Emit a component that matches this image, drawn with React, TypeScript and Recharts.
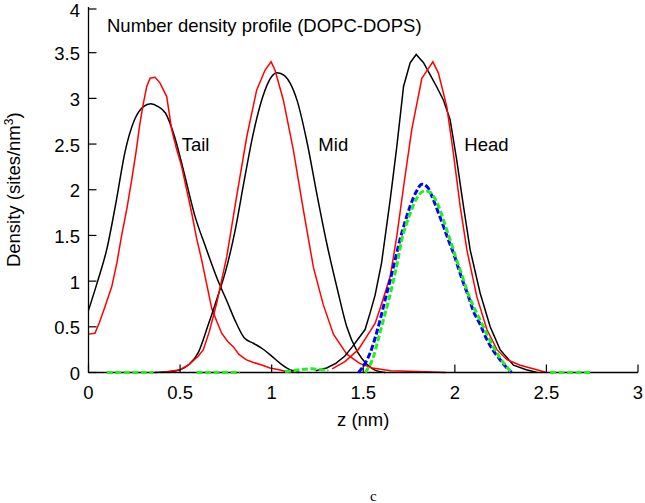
import React from 'react';
import { LineChart, Line, XAxis, YAxis, ReferenceDot } from 'recharts';

const xTicks = [0, 0.5, 1, 1.5, 2, 2.5, 3];
const yTicks = [0, 0.5, 1, 1.5, 2, 2.5, 3, 3.5, 4];

// Tail (black)
const tailBlackZ = [0, 0.05, 0.1, 0.15, 0.2, 0.25, 0.3, 0.34, 0.38, 0.42, 0.47, 0.52, 0.58, 0.64, 0.7, 0.76, 0.8, 0.85, 0.9, 0.95, 1.0, 1.05, 1.1, 1.15];
const tailBlackV = [0.68, 1.0, 1.35, 1.86, 2.42, 2.76, 2.91, 2.94, 2.91, 2.84, 2.58, 2.2, 1.72, 1.37, 1.04, 0.76, 0.57, 0.38, 0.32, 0.26, 0.18, 0.095, 0.03, 0.005];
// Tail (red)
const tailRedZ = [0, 0.035, 0.06, 0.09, 0.127, 0.155, 0.18, 0.21, 0.236, 0.26, 0.281, 0.3, 0.318, 0.336, 0.363, 0.39, 0.427, 0.454, 0.48, 0.509, 0.536, 0.564, 0.59, 0.618, 0.645, 0.673, 0.7, 0.727, 0.76, 0.791, 0.82, 0.86, 0.9, 0.95, 0.99, 1.04, 1.08, 1.15];
const tailRedV = [0.42, 0.43, 0.55, 0.72, 0.94, 1.2, 1.49, 1.8, 2.11, 2.42, 2.73, 2.95, 3.13, 3.22, 3.23, 3.17, 3.02, 2.66, 2.45, 2.25, 2.0, 1.74, 1.47, 1.23, 0.97, 0.7, 0.56, 0.43, 0.34, 0.28, 0.2, 0.14, 0.11, 0.08, 0.05, 0.03, 0.01, 0];
// Mid (black)
const midBlackZ = [0.36, 0.45, 0.5, 0.55, 0.6, 0.65, 0.7, 0.75, 0.8, 0.85, 0.9, 0.95, 1.0, 1.03, 1.07, 1.1, 1.14, 1.19, 1.25, 1.3, 1.36, 1.41, 1.47, 1.52, 1.57, 1.62];
const midBlackV = [0, 0.01, 0.03, 0.09, 0.22, 0.5, 0.8, 1.12, 1.55, 2.1, 2.62, 3.01, 3.24, 3.28, 3.25, 3.17, 2.97, 2.55, 1.92, 1.42, 0.9, 0.5, 0.22, 0.09, 0.02, 0];
// Mid (red)
const midRedZ = [0.4, 0.5, 0.55, 0.6, 0.627, 0.66, 0.7, 0.755, 0.809, 0.864, 0.918, 0.964, 0.997, 1.018, 1.064, 1.118, 1.173, 1.228, 1.282, 1.337, 1.41, 1.48, 1.55, 1.65, 1.8, 1.95];
const midRedV = [0, 0.03, 0.09, 0.18, 0.25, 0.45, 0.76, 1.27, 1.93, 2.58, 3.09, 3.31, 3.4, 3.31, 2.98, 2.44, 1.78, 1.15, 0.74, 0.42, 0.2, 0.1, 0.05, 0.02, 0.01, 0];
// Head (black)
const headBlackZ = [1.24, 1.3, 1.35, 1.4, 1.44, 1.51, 1.537, 1.565, 1.6, 1.647, 1.683, 1.72, 1.756, 1.789, 1.829, 1.87, 1.9, 1.938, 1.974, 2.01, 2.047, 2.084, 2.138, 2.193, 2.247, 2.32, 2.39, 2.45];
const headBlackV = [0.02, 0.05, 0.1, 0.18, 0.28, 0.47, 0.65, 0.85, 1.2, 1.89, 2.47, 3.13, 3.39, 3.48, 3.39, 3.24, 3.13, 2.98, 2.77, 2.33, 1.82, 1.34, 0.87, 0.5, 0.25, 0.08, 0.03, 0];
// Head (red)
const headRedZ = [1.33, 1.4, 1.473, 1.537, 1.565, 1.592, 1.647, 1.683, 1.72, 1.765, 1.82, 1.85, 1.88, 1.91, 1.956, 1.992, 2.029, 2.066, 2.12, 2.175, 2.23, 2.284, 2.357, 2.448, 2.5];
const headRedV = [0.04, 0.12, 0.25, 0.45, 0.54, 0.7, 1.05, 1.49, 2.03, 2.66, 3.22, 3.31, 3.4, 3.28, 2.91, 2.4, 1.82, 1.34, 0.83, 0.47, 0.25, 0.14, 0.08, 0.03, 0];
// Blue dashed
const blueZ = [1.474, 1.51, 1.537, 1.565, 1.592, 1.62, 1.647, 1.675, 1.7, 1.73, 1.756, 1.79, 1.82, 1.85, 1.883, 1.91, 1.938, 1.965, 1.992, 2.02, 2.047, 2.075, 2.1, 2.14, 2.175, 2.21, 2.247, 2.275, 2.31];
const blueV = [0, 0.1, 0.21, 0.38, 0.575, 0.8, 1.01, 1.24, 1.45, 1.66, 1.82, 1.98, 2.06, 2.03, 1.89, 1.75, 1.6, 1.45, 1.31, 1.14, 0.98, 0.83, 0.68, 0.52, 0.36, 0.24, 0.14, 0.07, 0];
// Green dashed (null = gap)
const greenZ = [0.1, 0.15, 0.2, 0.25, 0.3, 0.354, 0.45, 0.59, 0.65, 0.7, 0.75, 0.8, 0.827, 0.95, 1.073, 1.12, 1.17, 1.22, 1.27, 1.31, 1.4, 1.51, 1.555, 1.58, 1.61, 1.64, 1.665, 1.69, 1.71, 1.735, 1.756, 1.79, 1.838, 1.87, 1.9, 1.93, 1.956, 1.983, 2.01, 2.04, 2.066, 2.1, 2.138, 2.175, 2.21, 2.25, 2.284, 2.31, 2.4, 2.52, 2.58, 2.64, 2.7, 2.748];
const greenV = [0, 0, 0, 0, 0, 0, null, 0, 0, 0, 0, 0, 0, null, 0.01, 0.02, 0.035, 0.04, 0.03, 0.02, null, 0, 0.17, 0.35, 0.575, 0.8, 1.01, 1.24, 1.45, 1.62, 1.74, 1.9, 1.99, 1.96, 1.87, 1.72, 1.56, 1.4, 1.23, 1.06, 0.9, 0.73, 0.575, 0.42, 0.28, 0.15, 0.06, 0, null, 0, 0, 0, 0, 0];

const zip = (zs: number[], vs: (number | null)[]) => zs.map((z, i) => ({ z, v: vs[i] }));

const tailBlack = zip(tailBlackZ, tailBlackV);
const tailRed = zip(tailRedZ, tailRedV);
const midBlack = zip(midBlackZ, midBlackV);
const midRed = zip(midRedZ, midRedV);
const headBlack = zip(headBlackZ, headBlackV);
const headRed = zip(headRedZ, headRedV);
const blue = zip(blueZ, blueV);
const green = zip(greenZ, greenV);

const FONT = '"Liberation Sans", Arial, Helvetica, sans-serif';
const FS = 18.5;
const TICK = 8;

const BottomTick = (props: any) => {
  const { x, y, payload } = props;
  return (
    <g>
      <line x1={x} y1={y} x2={x} y2={y - TICK} stroke="#000" strokeWidth={1.2} />
      <text x={x} y={y + 26} textAnchor="middle" fontFamily={FONT} fontSize={FS} fill="#000">{payload.value}</text>
    </g>
  );
};
const TopTick = (props: any) => {
  const { x, y } = props;
  return <line x1={x} y1={y} x2={x} y2={y + TICK} stroke="#000" strokeWidth={1.2} />;
};
const LeftTick = (props: any) => {
  const { x, y, payload } = props;
  return (
    <g>
      <line x1={x} y1={y} x2={x + TICK} y2={y} stroke="#000" strokeWidth={1.2} />
      <text x={x - 8.5} y={y + 7.5} textAnchor="end" fontFamily={FONT} fontSize={FS} fill="#000">{payload.value}</text>
    </g>
  );
};
const RightTick = (props: any) => {
  const { x, y } = props;
  return <line x1={x} y1={y} x2={x - TICK} y2={y} stroke="#000" strokeWidth={1.2} />;
};

const XTitle = (props: any) => {
  const vb = props.viewBox || { x: 88.5, y: 372.5, width: 549.5, height: 130.5 };
  return (
    <text x={vb.x + vb.width / 2} y={vb.y + 53} textAnchor="middle" fontFamily={FONT} fontSize={FS} fill="#000">z (nm)</text>
  );
};
const YTitle = (props: any) => {
  const vb = props.viewBox || { x: 0, y: 7, width: 88.5, height: 365.5 };
  const cx = 20;
  const cy = vb.y + vb.height / 2;
  return (
    <text x={cx} y={cy} transform={`rotate(-90, ${cx}, ${cy})`} textAnchor="middle" fontFamily={FONT} fontSize={FS} fill="#000">
      Density (sites/nm<tspan fontSize={12} dy={-7}>3</tspan><tspan dy={7}>)</tspan>
    </text>
  );
};

const textShape = (label: string) => (p: any) => (
  <text x={p.cx} y={p.cy} fontFamily={FONT} fontSize={FS} fill="#000">{label}</text>
);

const annotations = [
  { z: 0.101, v: 3.725, text: 'Number density profile (DOPC-DOPS)' },
  { z: 0.509, v: 2.425, text: 'Tail' },
  { z: 1.255, v: 2.425, text: 'Mid' },
  { z: 2.052, v: 2.425, text: 'Head' },
];

export default function App() {
  const solid = (data: any[], color: string, key: string, curve: any) => (
    <Line key={key} data={data} dataKey="v" type={curve} stroke={color} strokeWidth={1.5} dot={false} activeDot={false} isAnimationActive={false} connectNulls={false} />
  );
  const dashedProps: any = { zIndex: 800 };
  return (
    <div style={{ position: 'absolute', left: 0, top: 0, width: 645, height: 503, background: '#fff' }}>
      <LineChart width={645} height={503} margin={{ top: 7, right: 7, left: 0, bottom: 0 }}>
        <XAxis xAxisId={0} dataKey="z" type="number" domain={[0, 3]} ticks={xTicks} height={130.5}
          tick={<BottomTick />} tickLine={false} tickSize={0} tickMargin={0} axisLine={{ stroke: '#000', strokeWidth: 1.3 }}
          label={<XTitle />} />
        <XAxis xAxisId="top" orientation="top" dataKey="z" type="number" domain={[0, 3]} ticks={xTicks} allowDataOverflow height={0}
          tick={<TopTick />} tickLine={false} tickSize={0} tickMargin={0} axisLine={{ stroke: '#000', strokeWidth: 1.3 }} />
        <YAxis yAxisId={0} type="number" domain={[0, 4]} ticks={yTicks} width={88.5}
          tick={<LeftTick />} tickLine={false} tickSize={0} tickMargin={0} axisLine={{ stroke: '#000', strokeWidth: 1.3 }}
          label={<YTitle />} />
        <YAxis yAxisId="right" orientation="right" type="number" domain={[0, 4]} ticks={yTicks} allowDataOverflow width={0}
          tick={<RightTick />} tickLine={false} tickSize={0} tickMargin={0} axisLine={{ stroke: '#000', strokeWidth: 1.3 }} />
        {solid(tailBlack, '#000000', 'tb', 'monotone')}
        {solid(tailRed, '#ff0000', 'tr', 'linear')}
        {solid(midBlack, '#000000', 'mb', 'monotone')}
        {solid(midRed, '#ff0000', 'mr', 'linear')}
        {solid(headBlack, '#000000', 'hb', 'linear')}
        {solid(headRed, '#ff0000', 'hr', 'linear')}
        <Line {...dashedProps} data={blue} dataKey="v" type="monotone" stroke="#0000ff" strokeWidth={3} strokeDasharray="6 2.5" dot={false} activeDot={false} isAnimationActive={false} />
        <Line {...dashedProps} data={green} dataKey="v" type="monotone" stroke="#22ee22" strokeWidth={3} strokeDasharray="6 2.5" dot={false} activeDot={false} isAnimationActive={false} connectNulls={false} />
        {annotations.map((a) => (
          <ReferenceDot key={a.text} x={a.z} y={a.v} r={0} ifOverflow="visible" shape={textShape(a.text)} />
        ))}
      </LineChart>
      <div style={{ position: 'absolute', left: 370, top: 489, fontFamily: '"Liberation Serif", "Times New Roman", serif', fontSize: 15, lineHeight: '15px', color: '#000' }}>c</div>
    </div>
  );
}
